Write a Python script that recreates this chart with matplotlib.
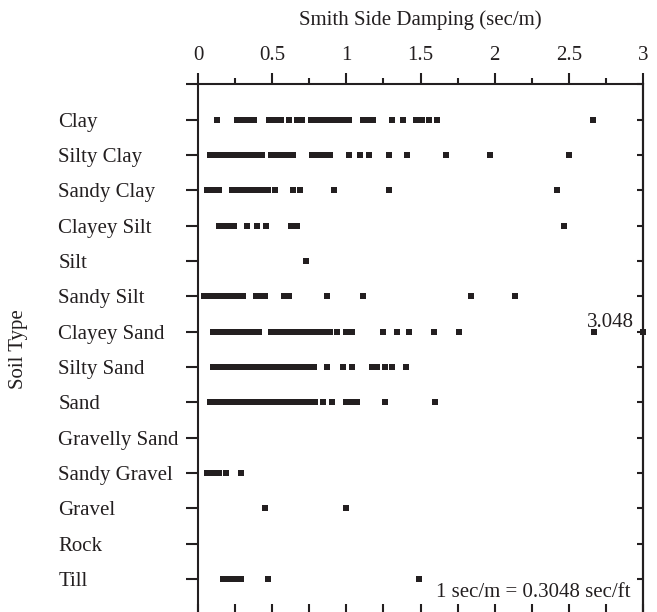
import numpy as np
import matplotlib.pyplot as plt

plt.rcParams['font.family'] = ['Liberation Serif', 'DejaVu Serif']

# soil types, top to bottom
soil_types = ['Clay', 'Silty Clay', 'Sandy Clay', 'Clayey Silt', 'Silt',
              'Sandy Silt', 'Clayey Sand', 'Silty Sand', 'Sand',
              'Gravelly Sand', 'Sandy Gravel', 'Gravel', 'Rock', 'Till']

# Smith side damping values (sec/m)
clay = [0.13, 0.26, 0.30, 0.34, 0.38, 0.48, 0.52, 0.56, 0.61, 0.67, 0.70,
        0.76, 0.80, 0.84, 0.88, 0.92, 0.96, 1.00, 1.02, 1.11, 1.14, 1.18,
        1.31, 1.38, 1.47, 1.51, 1.56, 1.61, 2.66]
silty_clay = [0.08, 0.11, 0.14, 0.17, 0.20, 0.23, 0.26, 0.29, 0.32, 0.35,
              0.38, 0.41, 0.43, 0.49, 0.53, 0.57, 0.61, 0.64, 0.77, 0.81,
              0.85, 0.89, 1.02, 1.09, 1.15, 1.29, 1.41, 1.67, 1.97, 2.50]
sandy_clay = [0.06, 0.09, 0.12, 0.14, 0.23, 0.27, 0.31, 0.35, 0.39, 0.43,
              0.47, 0.52, 0.64, 0.69, 0.92, 1.29, 2.42]
clayey_silt = [0.14, 0.17, 0.21, 0.24, 0.33, 0.40, 0.46, 0.63, 0.67, 2.47]
silt = [0.73]
sandy_silt = [0.04, 0.07, 0.10, 0.13, 0.16, 0.19, 0.22, 0.25, 0.28, 0.30,
              0.39, 0.42, 0.45, 0.58, 0.61, 0.87, 1.11, 1.84, 2.14]
clayey_sand = [0.10, 0.14, 0.18, 0.22, 0.26, 0.30, 0.34, 0.38, 0.41, 0.49,
               0.53, 0.57, 0.61, 0.65, 0.69, 0.73, 0.77, 0.81, 0.85, 0.89,
               0.94, 1.00, 1.04, 1.25, 1.34, 1.42, 1.59, 1.76, 2.67, 3.048]
silty_sand = [0.10, 0.14, 0.18, 0.22, 0.26, 0.30, 0.34, 0.38, 0.42, 0.46,
              0.50, 0.54, 0.58, 0.62, 0.66, 0.70, 0.74, 0.78, 0.87, 0.98,
              1.04, 1.17, 1.21, 1.26, 1.31, 1.40]
sand = [0.08, 0.12, 0.16, 0.20, 0.24, 0.28, 0.32, 0.36, 0.40, 0.44, 0.48,
        0.52, 0.56, 0.60, 0.64, 0.68, 0.72, 0.76, 0.79, 0.84, 0.90, 1.00,
        1.04, 1.07, 1.26, 1.60]
gravelly_sand = []
sandy_gravel = [0.06, 0.10, 0.14, 0.19, 0.29]
gravel = [0.45, 1.00]
rock = []
till = [0.17, 0.21, 0.25, 0.29, 0.47, 1.49]

damping = [clay, silty_clay, sandy_clay, clayey_silt, silt, sandy_silt,
           clayey_sand, silty_sand, sand, gravelly_sand, sandy_gravel,
           gravel, rock, till]

x_ticks = [0, 0.5, 1, 1.5, 2, 2.5, 3]
x_tick_labels = ['0', '0.5', '1', '1.5', '2', '2.5', '3']
x_minor = [0.25, 0.75, 1.25, 1.75, 2.25, 2.75]
x_max = 3.0
note = '1 sec/m = 0.3048 sec/ft'

ink = '#231f20'
fs = 15

fig = plt.figure(figsize=(6.57, 6.12), dpi=100)
ax = fig.add_axes([0.3014, -0.0039, 0.6773, 0.866])

for pos, values in enumerate(damping, start=1):
    inside = [v for v in values if v <= x_max]
    ax.plot(inside, [pos] * len(inside), 's', ms=5, mew=0, color=ink)
    # values beyond the axis are pinned to the edge and labelled
    for v in values:
        if v > x_max:
            ax.plot([x_max], [pos], 's', ms=4, mew=0, color=ink, clip_on=False)
            ax.annotate(f'{v:.3f}', xy=(x_max, pos), xytext=(-9, 9),
                        textcoords='offset pixels', ha='right', va='center',
                        fontsize=fs, color=ink)

ax.set_xlim(0, x_max)
ax.set_ylim(len(soil_types) + 1, 0)

# top x axis
ax.xaxis.tick_top()
ax.xaxis.set_label_position('top')
ax.set_xticks(x_ticks)
ax.set_xticklabels(x_tick_labels)
ax.set_xticks(x_minor, minor=True)
ax.tick_params(axis='x', which='major', direction='out', length=8, width=1.5,
               pad=6, labelsize=fs, colors=ink)
ax.tick_params(axis='x', which='minor', direction='out', length=4.3, width=1.5,
               colors=ink)
ax.set_xlabel('Smith Side Damping (sec/m)', fontsize=fs, labelpad=15, color=ink)

# left y axis, labels left aligned
ax.set_yticks(range(len(soil_types) + 1))
ax.set_yticklabels([''] + soil_types)
ax.tick_params(axis='y', direction='out', length=8.6, width=1.5, pad=92,
               labelsize=fs, colors=ink)
for lab in ax.get_yticklabels():
    lab.set_horizontalalignment('left')
ax.set_ylabel('Soil Type', fontsize=fs, color=ink)
ax.yaxis.set_label_coords(-0.382, 0.5)

for sp in ax.spines.values():
    sp.set_linewidth(1.5)
    sp.set_color(ink)

# inward ticks on bottom and right
bottom = ax.secondary_xaxis('bottom')
bottom.set_xticks(sorted(x_ticks + x_minor))
bottom.tick_params(direction='in', length=7, width=1.5, labelbottom=False,
                   colors=ink)
bottom.spines['bottom'].set_linewidth(1.5)

right = ax.secondary_yaxis('right')
right.set_yticks(range(len(soil_types) + 1))
right.tick_params(direction='in', length=4.5, width=1.5, labelright=False,
                  colors=ink)
right.spines['right'].set_linewidth(1.5)

ax.text(0.971, 0.041, note, transform=ax.transAxes, ha='right', va='center',
        fontsize=fs, color=ink)

fig.savefig('out.png', dpi=100)
